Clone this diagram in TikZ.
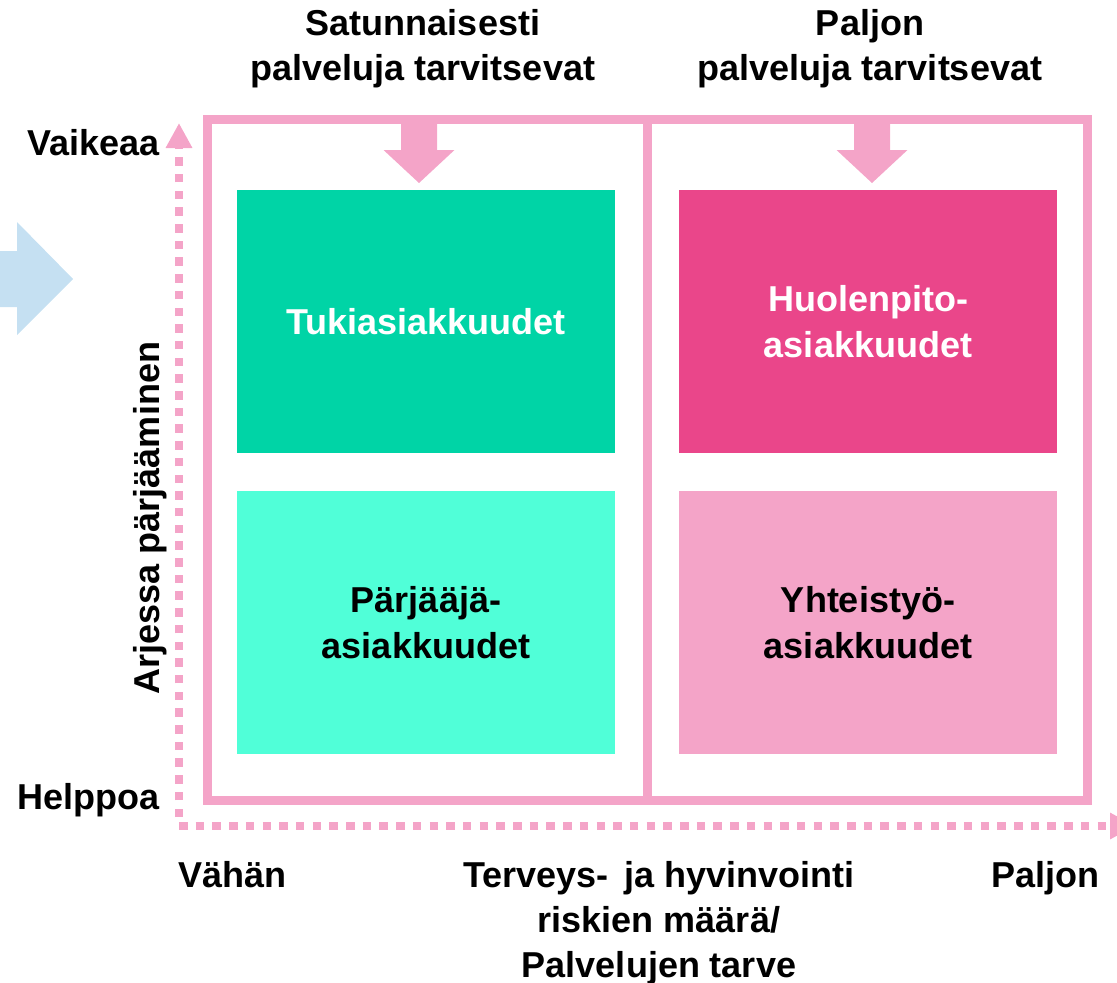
\documentclass[tikz,border=0pt]{standalone}
\usepackage{fontspec}
\setmainfont{Liberation Sans}
\usetikzlibrary{positioning,arrows.meta}

\definecolor{framepink}{RGB}{244,164,200}
\definecolor{tukigreen}{RGB}{0,212,166}
\definecolor{parjaqua}{RGB}{80,255,216}
\definecolor{huolpink}{RGB}{234,70,138}
\definecolor{yhtpink}{RGB}{244,164,200}
\definecolor{arrowblue}{RGB}{197,224,242}

\begin{document}
\begin{tikzpicture}[x=1pt, y=-1pt,
lbl/.style={font=\fontsize{36}{45}\selectfont\bfseries, align=center, inner sep=0pt},
quadnode/.style={rectangle, minimum width=378pt, minimum height=263pt, inner sep=0pt, outer sep=0pt, font=\fontsize{36}{46}\selectfont\bfseries, align=center},
axisline/.style={draw=framepink, line width=8pt, dash pattern=on 8.5pt off 8.2pt, -{Triangle[length=25pt,width=25pt]}},
]
\useasboundingbox (0,0) rectangle (1117,983);
\clip (0,0) rectangle (1117,983);

%Frame
\node[draw=framepink, line width=9pt, minimum width=880.5pt, minimum height=680.5pt, inner sep=0pt, outer sep=0pt] (frame) at (647.25,459.75) {};
\draw[framepink, line width=9pt] (frame.north) -- (frame.south);

%Nodes
\node[quadnode, fill=tukigreen, text=white]  (tuki)  at (426,321.5)  {Tukiasiakkuudet};
\node[quadnode, fill=huolpink, text=white]   (huol)  at (868,321.5)  {Huolenpito-\\asiakkuudet};
\node[quadnode, fill=parjaqua]               (parj)  at (426,622.5)  {Pärjääjä-\\asiakkuudet};
\node[quadnode, fill=yhtpink]                (yht)   at (868,622.5)  {Yhteistyö-\\asiakkuudet};

\node[lbl, anchor=base]       (satu)    at (423,80)   {Satunnaisesti\\palveluja tarvitsevat};
\node[lbl, anchor=base]       (paljo)   at (870,80)   {Paljon\\palveluja tarvitsevat};
\node[lbl, anchor=base east]  (vaikea)  at (160,155)  {Vaikeaa};
\node[lbl, anchor=base east]  (helppo)  at (160,809)  {Helppoa};
\node[lbl, anchor=base, rotate=90] (arki) at (159,518) {Arjessa pärjääminen};
\node[lbl, anchor=base west]  (vahan)   at (178,887)  {Vähän};
\node[lbl, anchor=base east]  (paljon)  at (1100,887) {Paljon};
\node[lbl, anchor=base]       (tarve)   at (659,977)  {Terveys-\hspace{0.45em}ja hyvinvointi\\riskien määrä/\\Palvelujen tarve};

%Arrows
\foreach \x in {419,872}
  \fill[framepink] (\x-18,118) -- (\x+18,118) -- (\x+18,150) -- (\x+35.5,150) -- (\x,183) -- (\x-35.5,150) -- (\x-18,150) -- cycle;
\fill[arrowblue] (-5,251) -- (17,251) -- (17,222) -- (73,279) -- (17,335) -- (17,307) -- (-5,307) -- cycle;

%Axes
\coordinate (origin) at (179,817);
\coordinate (ytop)   at (179,123);
\coordinate (xstart) at (179,826);
\coordinate (xend)   at (1135,826);
\draw[axisline] (origin) -- (ytop);
\draw[axisline] (xstart) -- (xend);
\end{tikzpicture}
\end{document}
